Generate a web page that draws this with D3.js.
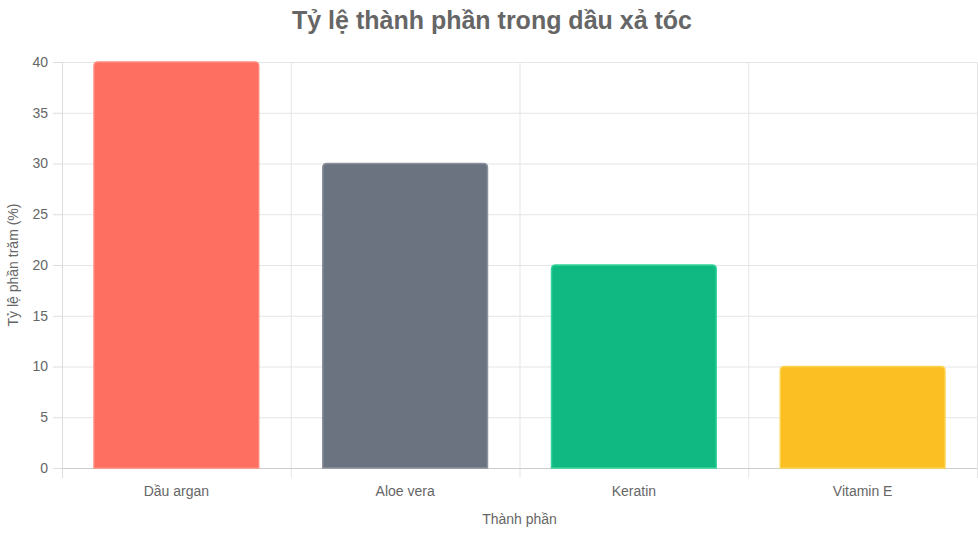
<!DOCTYPE html>
<html lang="vi">
<style>
body { margin: 0; background: #fff; }
svg { display: block; font-family: "Liberation Sans", Arial, Helvetica, sans-serif; }
.grid line { stroke: #e5e5e5; }
.grid path { display: none; }
.axis text { fill: #666; font-size: 14px; }
.axis line { stroke: #ddd; }
.axis path { display: none; }
.title { fill: #666; font-size: 25px; font-weight: bold; }
.label { fill: #666; font-size: 14px; }
</style>
<body>
<svg width="978" height="533"></svg>
<script src="https://d3js.org/d3.v7.min.js"></script>
<script>
var categories = ["Dầu argan", "Aloe vera", "Keratin", "Vitamin E"];
var values = [40, 30, 20, 10];
var colors = ["#FF6F61", "#6B7280", "#10B981", "#FBBF24"];
var borders = ["#ff8a7e", "#8a919c", "#34d399", "#fcd34d"];
var yTicks = [0, 5, 10, 15, 20, 25, 30, 35, 40];

var svg = d3.select("svg");
var margin = {top: 62, right: 1, bottom: 65, left: 62};
var width = 978 - margin.left - margin.right;
var height = 533 - margin.top - margin.bottom;

var g = svg.append("g")
    .attr("transform", "translate(" + margin.left + "," + margin.top + ")");

var yScale = d3.scaleLinear().domain([0, 40]).range([height, 0]);
var xScale = d3.scaleBand().domain(categories).range([0, width]);

// horizontal grid
g.append("g")
    .attr("class", "grid")
    .call(d3.axisLeft(yScale).tickValues(yTicks).tickSize(-width).tickFormat(""));

// vertical grid (category boundaries)
g.selectAll(".vgrid")
    .data(categories.concat(["end"]))
    .enter().append("line")
    .attr("class", "vgrid")
    .attr("x1", function(d, i) { return i * xScale.step() + 0.5; })
    .attr("x2", function(d, i) { return i * xScale.step() + 0.5; })
    .attr("y1", 0)
    .attr("y2", height + 10)
    .attr("stroke", "#e5e5e5");

// y axis
g.append("g")
    .attr("class", "axis")
    .call(d3.axisLeft(yScale).tickValues(yTicks).tickSize(9).tickPadding(5));

// axis lines
g.append("line").attr("x1", 0.5).attr("x2", 0.5).attr("y1", 0).attr("y2", height + 10).attr("stroke", "#ddd");
g.append("line").attr("x1", 0).attr("x2", width).attr("y1", height + 0.5).attr("y2", height + 0.5).attr("stroke", "#ccc");

// x labels
g.append("g")
    .attr("class", "axis")
    .attr("transform", "translate(0," + height + ")")
    .call(d3.axisBottom(xScale).tickSize(0).tickPadding(18));

// bars with rounded top corners
var barW = xScale.step() * 0.72;
var r = 4;
function barPath(d, i) {
    var x0 = xScale(categories[i]) + (xScale.step() - barW) / 2;
    var x1 = x0 + barW;
    var y0 = yScale(d);
    var yb = yScale(0);
    return "M" + x0 + "," + yb + "L" + x0 + "," + (y0 + r) +
        "Q" + x0 + "," + y0 + " " + (x0 + r) + "," + y0 +
        "L" + (x1 - r) + "," + y0 +
        "Q" + x1 + "," + y0 + " " + x1 + "," + (y0 + r) +
        "L" + x1 + "," + yb + "Z";
}
g.selectAll(".bar")
    .data(values)
    .enter().append("path")
    .attr("class", "bar")
    .attr("d", barPath)
    .attr("fill", function(d, i) { return colors[i]; })
    .attr("stroke", function(d, i) { return borders[i]; })
    .attr("stroke-width", 1.5);

// title
svg.append("text")
    .attr("class", "title")
    .attr("x", 978 / 2 + 3)
    .attr("y", 29)
    .attr("text-anchor", "middle")
    .text("Tỷ lệ thành phần trong dầu xả tóc");

// axis titles
svg.append("text")
    .attr("class", "label")
    .attr("x", margin.left + width / 2)
    .attr("y", 524)
    .attr("text-anchor", "middle")
    .text("Thành phần");

svg.append("text")
    .attr("class", "label")
    .attr("transform", "translate(18," + (margin.top + height / 2) + ") rotate(-90)")
    .attr("text-anchor", "middle")
    .text("Tỷ lệ phần trăm (%)");
</script>
</body>
</html>
